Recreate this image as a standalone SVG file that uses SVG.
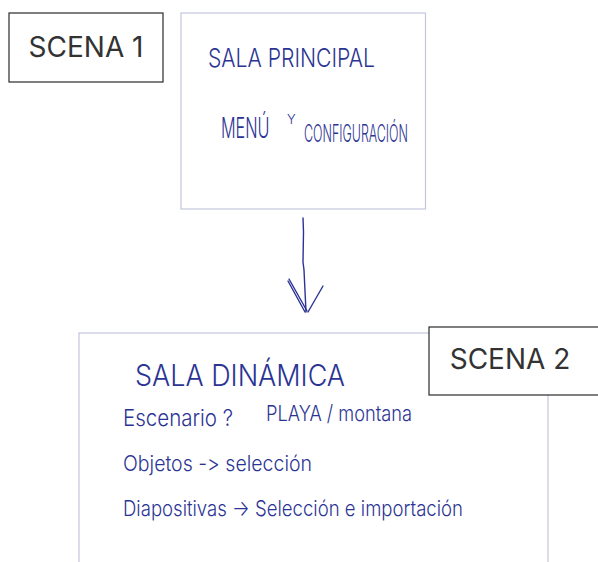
<svg xmlns="http://www.w3.org/2000/svg" width="598" height="562" viewBox="0 0 598 562">
  <style>
    .card { fill: #ffffff; stroke: #c3c6de; stroke-width: 1.2; }
    .tag { fill: #ffffff; stroke: #2a2a2a; stroke-width: 1.2; }
    .tag-text { font-family: "Inter", "Liberation Sans", sans-serif; font-size: 28px; fill: #333333; }
    .hand { font-family: "Inter", "Liberation Sans", sans-serif; font-weight: 300; fill: #2b3494;
            font-variant-ligatures: none; font-feature-settings: "calt" 0, "liga" 0; }
    .ink { fill: none; stroke: #2b3494; stroke-width: 1.4; stroke-linecap: round; stroke-linejoin: round; }
  </style>

  <rect width="598" height="562" fill="#ffffff"/>

  <!-- Scene 1 card -->
  <g id="sala-principal">
    <rect class="card" x="181" y="13" width="244.5" height="196"/>
    <text class="hand" x="208" y="67" font-size="26" textLength="167" lengthAdjust="spacingAndGlyphs">SALA PRINCIPAL</text>
    <text class="hand" transform="translate(221 138) scale(0.58 1)" font-size="28">MENÚ</text>
    <text class="hand" x="287" y="124" font-size="13">Y</text>
    <text class="hand" x="304" y="142" font-size="24" textLength="104" lengthAdjust="spacingAndGlyphs">CONFIGURACIÓN</text>
  </g>

  <!-- Scene 1 label -->
  <g id="scena-1">
    <rect class="tag" x="9" y="13" width="154" height="69"/>
    <text class="tag-text" x="86" y="57" text-anchor="middle">SCENA 1</text>
  </g>

  <!-- Scene 2 card -->
  <g id="sala-dinamica">
    <rect class="card" x="79" y="333" width="469" height="240"/>
    <text class="hand" x="135" y="386" font-size="30" textLength="210" lengthAdjust="spacingAndGlyphs">SALA DINÁMICA</text>
    <text class="hand" x="123" y="426" font-size="23" textLength="110" lengthAdjust="spacingAndGlyphs">Escenario ?</text>
    <text class="hand" x="266" y="421" font-size="22" textLength="146" lengthAdjust="spacingAndGlyphs">PLAYA / montana</text>
    <text class="hand" x="123" y="471" font-size="22" textLength="189" lengthAdjust="spacingAndGlyphs">Objetos -&gt;  selección</text>
    <text class="hand" x="123" y="516" font-size="22" textLength="340" lengthAdjust="spacingAndGlyphs">Diapositivas → Selección  e  importación</text>
  </g>

  <!-- Scene 2 label -->
  <g id="scena-2">
    <rect class="tag" x="429" y="327" width="172" height="68"/>
    <text class="tag-text" x="510" y="369" text-anchor="middle">SCENA 2</text>
  </g>

  <!-- Hand-drawn connector between scenes -->
  <g id="connectors">
    <path class="ink" d="M303 218 L303.5 232 L303 262 L304 270 L306 312"/>
    <path class="ink" d="M288 281 L305 312 M289 279 L307 311"/>
    <path class="ink" d="M323 286 L308 312"/>
  </g>
</svg>
